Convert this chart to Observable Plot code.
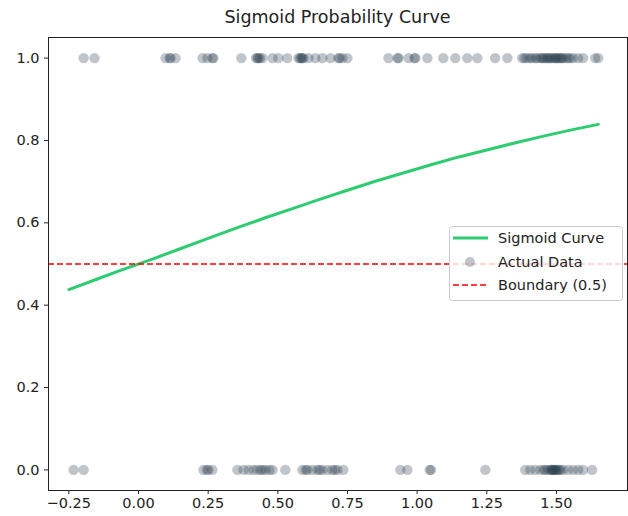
<!DOCTYPE html>
<html>
<head>
<meta charset="utf-8">
<script src="https://cdn.jsdelivr.net/npm/d3@7"></script>
<script src="https://cdn.jsdelivr.net/npm/@observablehq/plot@0.6"></script>
<style>
  html, body { margin: 0; padding: 0; background: white; }
  #wrap { position: relative; width: 628px; height: 516px; font-family: "DejaVu Sans", sans-serif; }
  #title { position: absolute; left: 48px; width: 579px; top: 7px; text-align: center; font-size: 17.5px; color: #222; }
  #chart { position: absolute; left: 0; top: 30px; }
  #legend { position: absolute; left: 449px; top: 226px; }
</style>
</head>
<body>
<div id="wrap">
  <div id="title">Sigmoid Probability Curve</div>
  <div id="chart"></div>
  <div id="legend"></div>
</div>
<script>
// Observed points with label 1 (top row)
const xTop = [-0.197, -0.158, 0.097, 0.112, 0.115, 0.133, 0.230, 0.247, 0.265, 0.269, 0.369,
  0.422, 0.427, 0.430, 0.436, 0.445, 0.481, 0.502, 0.534, 0.574, 0.580, 0.585, 0.588, 0.592,
  0.610, 0.635, 0.660, 0.689, 0.717, 0.722, 0.732, 0.750, 0.897, 0.930, 0.933, 0.969, 0.990,
  0.994, 1.037, 1.094, 1.137, 1.180, 1.216, 1.280, 1.324, 1.377, 1.385, 1.395, 1.405, 1.413,
  1.425, 1.431, 1.442, 1.448, 1.453, 1.460, 1.467, 1.470, 1.478, 1.482, 1.489, 1.495, 1.500,
  1.503, 1.510, 1.514, 1.520, 1.524, 1.535, 1.542, 1.550, 1.560, 1.578, 1.596, 1.639, 1.650];
// Observed points with label 0 (bottom row)
const xBottom = [-0.233, -0.197, 0.233, 0.245, 0.251, 0.265, 0.355, 0.377, 0.395, 0.412,
  0.427, 0.438, 0.446, 0.456, 0.470, 0.481, 0.527, 0.588, 0.600, 0.606, 0.624, 0.642, 0.650,
  0.660, 0.678, 0.696, 0.705, 0.714, 0.735, 0.940, 0.965, 1.045, 1.050, 1.245, 1.388, 1.406,
  1.424, 1.442, 1.455, 1.460, 1.470, 1.478, 1.482, 1.485, 1.489, 1.492, 1.495, 1.500, 1.503,
  1.510, 1.514, 1.524, 1.542, 1.560, 1.578, 1.596, 1.628];
// Sigmoid curve
const curveX = [-0.25, -0.15, -0.05, 0.05, 0.15, 0.25, 0.35, 0.45, 0.55, 0.65,
  0.75, 0.85, 0.95, 1.05, 1.15, 1.25, 1.35, 1.45, 1.55, 1.65];
const curveY = [0.438, 0.463, 0.488, 0.512, 0.537, 0.562, 0.587, 0.611, 0.634, 0.657,
  0.679, 0.701, 0.721, 0.741, 0.760, 0.777, 0.794, 0.810, 0.825, 0.839];
const xTicks = [-0.25, 0, 0.25, 0.5, 0.75, 1.0, 1.25, 1.5];
const yTicks = [0, 0.2, 0.4, 0.6, 0.8, 1.0];
const boundary = [0.5];
const legendLabels = ["Sigmoid Curve", "Actual Data", "Boundary (0.5)"];

const points = [
  ...xTop.map(x => ({x, y: 1})),
  ...xBottom.map(x => ({x, y: 0}))
];
const curve = curveX.map((x, i) => ({x, y: curveY[i]}));

const plot = Plot.plot({
  width: 628,
  height: 486,
  marginLeft: 48,
  marginRight: 1,
  marginTop: 7,
  marginBottom: 26,
  style: {fontFamily: "DejaVu Sans, sans-serif", fontSize: "14.5px", color: "#222", background: "white", overflow: "visible"},
  x: {domain: [-0.323, 1.755], ticks: xTicks, tickFormat: d3.format(".2f"), label: null, tickSize: 4, tickPadding: 3},
  y: {domain: [-0.05, 1.05], ticks: yTicks, tickFormat: d3.format(".1f"), label: null, tickSize: 4, tickPadding: 5},
  marks: [
    Plot.line(curve, {x: "x", y: "y", stroke: "#2ecc71", strokeWidth: 3}),
    Plot.dot(points, {x: "x", y: "y", r: 5.2, fill: "#2c3e50", fillOpacity: 0.3, stroke: null}),
    Plot.ruleY(boundary, {stroke: "red", strokeWidth: 1.5, strokeDasharray: "6,3"}),
    Plot.frame({stroke: "#222", strokeWidth: 1})
  ]
});
document.getElementById("chart").appendChild(plot);

// Legend
const lg = d3.select("#legend").append("svg").attr("width", 175).attr("height", 76)
  .style("font-family", "DejaVu Sans, sans-serif").style("font-size", "14.5px");
lg.append("rect").attr("x", 0.5).attr("y", 0.5).attr("width", 173).attr("height", 74)
  .attr("rx", 3).attr("fill", "white").attr("fill-opacity", 0.8).attr("stroke", "#ccc");
const rowY = [12, 36, 59];
lg.append("line").attr("x1", 4).attr("x2", 39).attr("y1", rowY[0]).attr("y2", rowY[0])
  .attr("stroke", "#2ecc71").attr("stroke-width", 3);
lg.append("circle").attr("cx", 21).attr("cy", rowY[1]).attr("r", 5)
  .attr("fill", "#2c3e50").attr("fill-opacity", 0.3);
lg.append("line").attr("x1", 4).attr("x2", 39).attr("y1", rowY[2]).attr("y2", rowY[2])
  .attr("stroke", "red").attr("stroke-width", 1.5).attr("stroke-dasharray", "6,3");
legendLabels.forEach((t, i) => {
  lg.append("text").attr("x", 49).attr("y", rowY[i]).attr("dy", "0.35em").attr("fill", "#222").text(t);
});
</script>
</body>
</html>
